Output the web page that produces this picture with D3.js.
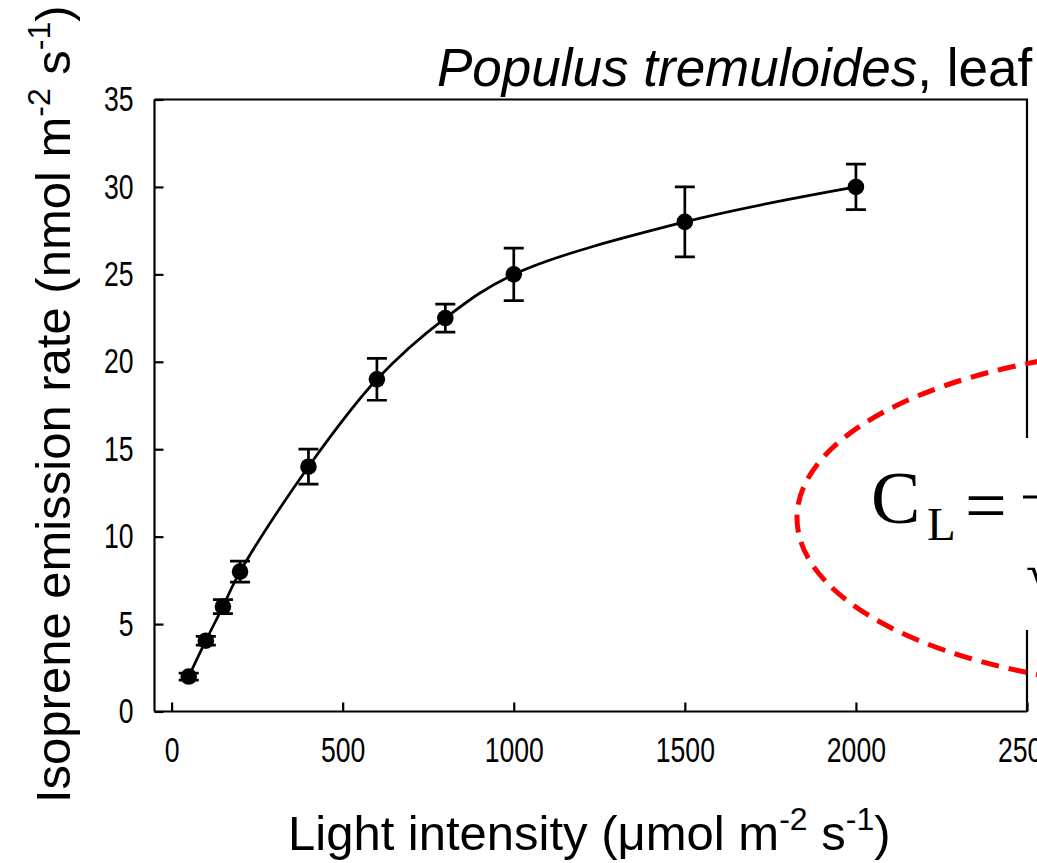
<!DOCTYPE html>
<html>
<head>
<meta charset="utf-8">
<script src="https://cdn.jsdelivr.net/npm/d3@7"></script>
<style>
  body { margin: 0; background: #fff; }
  svg { display: block; }
  .tick text { font-family: "Liberation Sans", Arial, sans-serif; font-size: 35px; fill: #000; }
  .lab { font-family: "Liberation Sans", Arial, sans-serif; fill: #000; }
</style>
</head>
<body>
<svg width="1037" height="863"></svg>
<script>
// light intensity vs isoprene emission
var light = [50, 100, 150, 200, 400, 600, 800, 1000, 1500, 2000];
var emission = [2.0, 4.05, 6.0, 8.0, 14.0, 19.0, 22.5, 25.0, 28.0, 30.0];
var errs = [0.2, 0.25, 0.4, 0.6, 1.0, 1.2, 0.8, 1.5, 2.0, 1.3];
var xTicks = [0, 500, 1000, 1500, 2000, 2500];
var yTicks = [0, 5, 10, 15, 20, 25, 30, 35];

var svg = d3.select("svg"),
  pLeft = 154.5, pRight = 1027, pTop = 99.5, pBottom = 711.5;

var x = d3.scaleLinear().domain([-50, 2500]).range([pLeft, pRight]),
  y = d3.scaleLinear().domain([0, 35]).range([pBottom, pTop]);

var pts = light.map(function(d, i) { return {x: d, y: emission[i], e: errs[i]}; });

// frame (top + right)
svg.append("path")
  .attr("d", "M" + pLeft + "," + pTop + "H" + pRight + "V" + pBottom)
  .attr("fill", "none").attr("stroke", "#000").attr("stroke-width", 2.2);

// narrow digits like the original (Arial Narrow look)
function narrow(sel) {
  sel.selectAll(".tick text").each(function() {
    var s = d3.select(this);
    s.attr("textLength", s.text().length * 14.8).attr("lengthAdjust", "spacingAndGlyphs");
  });
}

// x axis, ticks pointing inward
var gx = svg.append("g").attr("transform", "translate(0," + pBottom + ")")
  .call(d3.axisBottom(x).tickValues(xTicks).tickFormat(d3.format("d"))
    .tickSizeInner(-9).tickSizeOuter(0).tickPadding(26));
gx.select(".domain").attr("d", "M" + pLeft + ",0H" + pRight);
gx.selectAll("line, path").attr("stroke", "#000").attr("stroke-width", 2.2);
narrow(gx);

var gy = svg.append("g").attr("transform", "translate(" + pLeft + ",0)")
  .call(d3.axisLeft(y).tickValues(yTicks).tickFormat(d3.format("d"))
    .tickSizeInner(-9).tickSizeOuter(0).tickPadding(21));
gy.select(".domain").attr("d", "M0," + pTop + "V" + pBottom);
gy.selectAll("line, path").attr("stroke", "#000").attr("stroke-width", 2.2);
narrow(gy);

// smooth line through the means
var line = d3.line()
  .x(function(d) { return x(d.x); })
  .y(function(d) { return y(d.y); })
  .curve(d3.curveCatmullRom);
svg.append("path").datum(pts)
  .attr("d", line).attr("fill", "none").attr("stroke", "#000").attr("stroke-width", 2.7);

// error bars
var eb = svg.append("g").attr("stroke", "#000").attr("stroke-width", 2.7);
pts.forEach(function(d) {
  var cx = x(d.x), y0 = y(d.y - d.e), y1 = y(d.y + d.e);
  eb.append("path").attr("d",
    "M" + cx + "," + y0 + "V" + y1 +
    "M" + (cx - 10) + "," + y0 + "H" + (cx + 10) +
    "M" + (cx - 10) + "," + y1 + "H" + (cx + 10));
});

svg.selectAll("circle.pt").data(pts).enter().append("circle")
  .attr("class", "pt")
  .attr("cx", function(d) { return x(d.x); })
  .attr("cy", function(d) { return y(d.y); })
  .attr("r", 8.3).attr("fill", "#000");

// equation box (white) with the dashed ellipse around it
svg.append("rect").attr("x", 860).attr("y", 438).attr("width", 200).attr("height", 192).attr("fill", "#fff");
svg.append("ellipse")
  .attr("cx", 1200).attr("cy", 518).attr("rx", 403).attr("ry", 171)
  .attr("fill", "none").attr("stroke", "#ff0000").attr("stroke-width", 5)
  .attr("stroke-dasharray", "18,10");

var eq = svg.append("text").attr("font-family", "'Liberation Serif', 'Times New Roman', serif").attr("fill", "#000");
eq.append("tspan").attr("x", 871).attr("y", 523).attr("font-size", 74).text("C");
eq.append("tspan").attr("x", 927).attr("y", 540).attr("font-size", 47).text("L");
eq.append("tspan").attr("x", 965).attr("y", 530).attr("font-size", 74).text("=");
svg.append("line").attr("x1", 1023).attr("x2", 1100).attr("y1", 497).attr("y2", 497)
  .attr("stroke", "#000").attr("stroke-width", 3);
svg.append("text").attr("x", 1026).attr("y", 592)
  .attr("font-family", "'Liberation Serif', 'Times New Roman', serif").attr("font-size", 56).text("\u221a");

// title
var t = svg.append("text").attr("class", "lab").attr("x", 437).attr("y", 86).attr("font-size", 53);
t.append("tspan").attr("font-style", "italic").text("Populus tremuloides");
t.append("tspan").text(", leaf");

// axis titles
var xl = svg.append("text").attr("class", "lab").attr("x", 288).attr("y", 850).attr("font-size", 49);
xl.append("tspan").text("Light intensity (\u03bcmol m");
xl.append("tspan").attr("font-size", 32).attr("dy", -20).text("-2");
xl.append("tspan").attr("dy", 20).text(" s");
xl.append("tspan").attr("font-size", 32).attr("dy", -20).text("-1");
xl.append("tspan").attr("dy", 20).text(")");

var yl = svg.append("text").attr("class", "lab")
  .attr("transform", "translate(70,803) rotate(-90)").attr("font-size", 49);
yl.append("tspan").text("Isoprene emission rate (nmol m");
yl.append("tspan").attr("font-size", 32).attr("dy", -20).text("-2");
yl.append("tspan").attr("dy", 20).text(" s");
yl.append("tspan").attr("font-size", 32).attr("dy", -20).text("-1");
yl.append("tspan").attr("dy", 20).text(")");
</script>
</body>
</html>
